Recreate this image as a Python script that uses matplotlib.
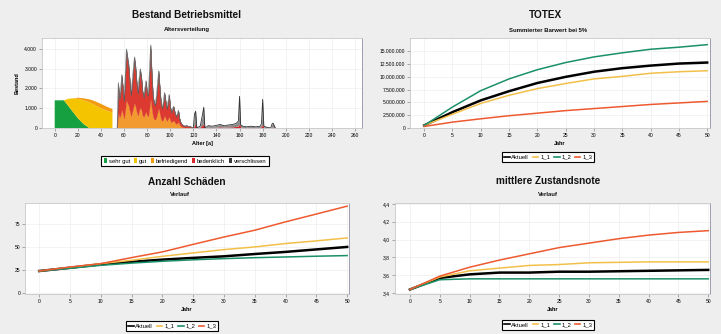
import matplotlib
matplotlib.use("Agg")
import matplotlib.pyplot as plt
from matplotlib.patches import Patch
from matplotlib.lines import Line2D
import numpy as np

plt.rcParams['font.family'] = ['Liberation Sans', 'DejaVu Sans']

# ---------------- data ----------------
# Panel 1: age distribution (stacked), left block
ages_left = [0, 8, 12, 16, 20, 25, 30, 35, 40, 45, 50]
left_sehr_gut = [1400, 1400, 1100, 800, 500, 200, 0, 0, 0, 0, 0]
left_gut = [0, 0, 380, 700, 980, 1200, 1300, 1150, 1000, 880, 780]
left_befriedigend = [0, 0, 0, 0, 50, 100, 150, 200, 220, 200, 180]

# Panel 1: spiky block (older assets)
ages_right = [54, 55, 56, 57, 58, 59, 60, 61, 62, 63, 64, 65, 66, 67, 68, 69, 70, 71, 72,
              73, 74, 75, 76, 77, 78, 79, 80, 81, 82, 83, 84, 85, 86, 87, 88, 89, 90, 91,
              92, 93, 94, 95, 96, 97, 98, 99, 100, 101, 102, 103, 104, 105, 106, 107, 108,
              109, 110, 111, 112, 113, 114, 115, 116, 117, 118, 119, 120]
right_befriedigend = [0, 800, 520, 660, 950, 730, 490, 910, 1400, 1260, 1120, 840, 600, 800,
                      1050, 1260, 1080, 800, 630, 870, 1050, 910, 660, 560, 700, 840, 630,
                      600, 1010, 1470, 980, 600, 450, 420, 560, 800, 1010, 700, 450, 350, 450,
                      630, 490, 350, 450, 600, 380, 280, 350, 380, 280, 210, 240, 310, 170,
                      100, 50, 40, 30, 20, 30, 20, 20, 20, 10, 10, 0]
right_bedenklich = [0, 1380, 900, 1140, 1620, 1260, 840, 1560, 2400, 2160, 1920, 1440, 1020,
                    1380, 1800, 2160, 1860, 1380, 1080, 1500, 1800, 1560, 1140, 960, 1200, 1440,
                    1080, 1020, 1740, 2520, 1680, 1020, 780, 720, 960, 1380, 1740, 1200, 780,
                    600, 780, 1080, 840, 600, 780, 1020, 660, 480, 600, 660, 480, 360, 420,
                    540, 300, 180, 130, 100, 80, 70, 100, 70, 50, 70, 40, 20, 0]
right_verschlissen = [0, 120, 80, 100, 130, 110, 70, 130, 200, 180, 160, 120, 80, 120, 150,
                      180, 160, 120, 90, 130, 150, 130, 100, 80, 100, 120, 90, 80, 150, 210,
                      140, 80, 70, 60, 80, 120, 150, 100, 70, 50, 70, 90, 70, 50, 70, 80, 60,
                      40, 50, 60, 40, 30, 40, 50, 30, 20, 20, 10, 10, 10, 20, 10, 10, 10, 10,
                      10, 0]

# Panel 1: sparse tail (old assets)
ages_tail = [120, 121, 122, 123, 126, 128, 129, 130, 133, 136, 140, 143, 147, 150, 154, 157,
             159, 160, 161, 163, 166, 170, 174, 178, 179, 180, 181, 184, 187, 188, 189, 191]
tail_bedenklich = [0, 150, 200, 0, 40, 150, 250, 0, 40, 30, 40, 60, 40, 50, 60, 80, 100,
                   250, 40, 30, 20, 30, 20, 30, 80, 200, 30, 10, 0, 40, 50, 0]
tail_verschlissen = [0, 550, 650, 0, 60, 550, 800, 0, 80, 60, 90, 120, 70, 100, 120, 150,
                     250, 1350, 100, 60, 40, 60, 40, 60, 150, 1250, 60, 20, 0, 150, 200, 0]

cat_names = ['sehr gut', 'gut', 'befriedigend', 'bedenklich', 'verschlissen']

# Panels 2-4: scenario curves
years = [0, 5, 10, 15, 20, 25, 30, 35, 40, 45, 50]
scenarios = ['Aktuell', '1_1', '1_2', '1_3']

totex_aktuell = [0.5e6, 3.1e6, 5.4e6, 7.2e6, 8.8e6, 10.0e6, 11.0e6, 11.7e6, 12.2e6, 12.6e6, 12.8e6]
totex_1_1 = [0.5e6, 2.7e6, 4.8e6, 6.4e6, 7.7e6, 8.7e6, 9.6e6, 10.1e6, 10.7e6, 11.0e6, 11.2e6]
totex_1_2 = [0.5e6, 4.1e6, 7.3e6, 9.6e6, 11.4e6, 12.8e6, 13.9e6, 14.7e6, 15.4e6, 15.8e6, 16.3e6]
totex_1_3 = [0.3e6, 1.15e6, 1.8e6, 2.4e6, 2.9e6, 3.4e6, 3.8e6, 4.2e6, 4.6e6, 4.9e6, 5.2e6]

schaeden_aktuell = [24, 27.5, 31.3, 34, 36.4, 38.3, 40, 42.5, 44.8, 47.5, 50.2]
schaeden_1_1 = [24, 27.7, 32, 35.7, 40, 43.7, 47.3, 50.2, 53.9, 56.8, 60]
schaeden_1_2 = [24, 27, 30.2, 32.6, 34.6, 36.2, 37.5, 38.5, 39.3, 40.1, 40.8]
schaeden_1_3 = [24, 28.4, 32, 38.6, 44.8, 53, 61, 68.4, 77.5, 86, 94.6]

note_aktuell = [3.44, 3.57, 3.61, 3.63, 3.63, 3.64, 3.64, 3.645, 3.65, 3.655, 3.66]
note_1_1 = [3.44, 3.58, 3.65, 3.68, 3.71, 3.72, 3.74, 3.745, 3.75, 3.75, 3.75]
note_1_2 = [3.44, 3.55, 3.56, 3.56, 3.56, 3.56, 3.56, 3.56, 3.56, 3.56, 3.56]
note_1_3 = [3.44, 3.59, 3.69, 3.77, 3.84, 3.91, 3.96, 4.01, 4.05, 4.08, 4.10]

totex_ticks = [0, 2500000, 5000000, 7500000, 10000000, 12500000, 15000000]
schaeden_ticks = [0, 25, 50, 75]
note_ticks = [3.4, 3.6, 3.8, 4.0, 4.2, 4.4]
age_ticks = list(range(0, 261, 20))
year_ticks = list(range(0, 51, 5))

# ---------------- style ----------------
W, H = 721, 334
BG = '#eeeeee'
cat_colors = ['#17a040', '#f5c400', '#f29a10', '#d8262a', '#3a3a3a']
sc_colors = ['#000000', '#f2c04a', '#1a9068', '#ee5a30']
sc_lw = [1.8, 1.1, 1.1, 1.1]

fig = plt.figure(figsize=(W / 100, H / 100), dpi=100, facecolor=BG)


def box(l, t, r, b):
    return [l / W, 1 - b / H, (r - l) / W, (b - t) / H]


def style_ax(ax):
    ax.set_facecolor('white')
    for s in ax.spines.values():
        s.set_color('#c8c8c8')
        s.set_linewidth(0.6)
    ax.spines['right'].set_color('#9090a8')
    ax.tick_params(labelsize=3.6, length=2, width=0.5, color='#888888', pad=1.5)
    ax.grid(True, color='#eeeeee', linewidth=0.5)
    ax.set_axisbelow(True)


def ftext(x, y, s, size, bold=True):
    fig.text(x / W, 1 - y / H, s, ha='center', va='center', fontsize=size,
             fontweight='bold' if bold else 'normal', color='#111111')


def de_fmt(v):
    return '{:,.0f}'.format(v).replace(',', '.')


# ---------- Panel 1 ----------
ax1 = fig.add_axes(box(42, 38, 362, 128))
style_ax(ax1)
ax1.stackplot(ages_left, left_sehr_gut, left_gut, left_befriedigend,
              colors=cat_colors[:3], linewidth=0)
base = np.zeros(len(ages_right))
for vals, col in zip([right_befriedigend, right_bedenklich, right_verschlissen],
                     ['#f29a30', '#dc3a30', '#505050']):
    top = base + np.array(vals)
    ax1.fill_between(ages_right, base, top, color=col, linewidth=0.2, edgecolor=col)
    base = top
ax1.plot(ages_right, base, color='#6a6a6a', linewidth=0.4)
tb = np.array(tail_bedenklich)
tv = tb + np.array(tail_verschlissen)
ax1.fill_between(ages_tail, 0, tb, color=cat_colors[3], linewidth=0)
ax1.fill_between(ages_tail, tb, tv, color='#8a8a8a', linewidth=0)
ax1.plot(ages_tail, tv, color='#333333', linewidth=0.6)
ax1.set_xlim(-11, 266)
ax1.set_ylim(0, 4550)
ax1.set_xticks(age_ticks)
ax1.set_yticks([0, 1000, 2000, 3000, 4000])
ax1.set_yticklabels([de_fmt(v) for v in [0, 1000, 2000, 3000, 4000]])
ax1.set_xlabel('Alter [a]', fontsize=4, fontweight='bold', labelpad=2)
ax1.set_ylabel('Bestand', fontsize=4, fontweight='bold', labelpad=3)

ftext(187, 15, 'Bestand Betriebsmittel', 7.2)
ftext(187, 30, 'Altersverteilung', 4.3)

h1 = [Patch(facecolor=c, edgecolor='none') for c in cat_colors]
fig.legend(h1, cat_names, loc='center', bbox_to_anchor=(185 / W, 1 - 161 / H), ncol=5,
           fontsize=4.2, frameon=True, fancybox=False, edgecolor='black', handlelength=0.6,
           handleheight=0.9, handletextpad=0.3, columnspacing=0.6, borderpad=0.35,
           framealpha=1, facecolor='white').get_frame().set_linewidth(0.8)

# ---------- Panel 2 ----------
ax2 = fig.add_axes(box(410, 38, 710, 128))
style_ax(ax2)
for vals, c, lw in zip([totex_aktuell, totex_1_1, totex_1_2, totex_1_3], sc_colors, sc_lw):
    ax2.plot(years, vals, color=c, linewidth=lw)
ax2.set_xlim(-2.5, 50.5)
ax2.set_ylim(0, 17.6e6)
ax2.set_xticks(year_ticks)
ax2.set_yticks(totex_ticks)
ax2.set_yticklabels([de_fmt(v) for v in totex_ticks])
ax2.set_xlabel('Jahr', fontsize=4, fontweight='bold', labelpad=2)
ftext(545, 15, 'TOTEX', 7.2)
ftext(548, 30, 'Summierter Barwert bei 5%', 4.3)

# ---------- Panel 3 ----------
ax3 = fig.add_axes(box(25, 203, 349, 294))
style_ax(ax3)
for vals, c, lw in zip([schaeden_aktuell, schaeden_1_1, schaeden_1_2, schaeden_1_3],
                       sc_colors, sc_lw):
    ax3.plot(years, vals, color=c, linewidth=lw)
ax3.set_xlim(-2.3, 50.3)
ax3.set_ylim(-1, 98)
ax3.set_xticks(year_ticks)
ax3.set_yticks(schaeden_ticks)
ax3.set_xlabel('Jahr', fontsize=4, fontweight='bold', labelpad=2)
ftext(187, 182, 'Anzahl Schäden', 7.2)
ftext(180, 195, 'Verlauf', 4.3)

# ---------- Panel 4 ----------
ax4 = fig.add_axes(box(395, 203, 710, 294))
style_ax(ax4)
for vals, c, lw in zip([note_aktuell, note_1_1, note_1_2, note_1_3], sc_colors, sc_lw):
    ax4.plot(years, vals, color=c, linewidth=lw)
ax4.set_xlim(-2.5, 50.3)
ax4.set_ylim(3.39, 4.41)
ax4.set_xticks(year_ticks)
ax4.set_yticks(note_ticks)
ax4.set_yticklabels(['{:.1f}'.format(v).replace('.', ',') for v in note_ticks])
ax4.set_xlabel('Jahr', fontsize=4, fontweight='bold', labelpad=2)
ftext(548, 181, 'mittlere Zustandsnote', 7.2)
ftext(548, 195, 'Verlauf', 4.3)

# scenario legends
h2 = [Line2D([0], [0], color=c, linewidth=1.2) for c in sc_colors]
for cx, cy in [(548, 157), (172, 326), (548, 325)]:
    lg = fig.legend(h2, scenarios, loc='center', bbox_to_anchor=(cx / W, 1 - cy / H), ncol=4,
                    fontsize=4.2, frameon=True, fancybox=False, edgecolor='black',
                    handlelength=1.0, handletextpad=0.3, columnspacing=0.6, borderpad=0.35,
                    framealpha=1, facecolor='white')
    lg.get_frame().set_linewidth(0.8)

fig.savefig('out.png', dpi=100, facecolor=BG)
